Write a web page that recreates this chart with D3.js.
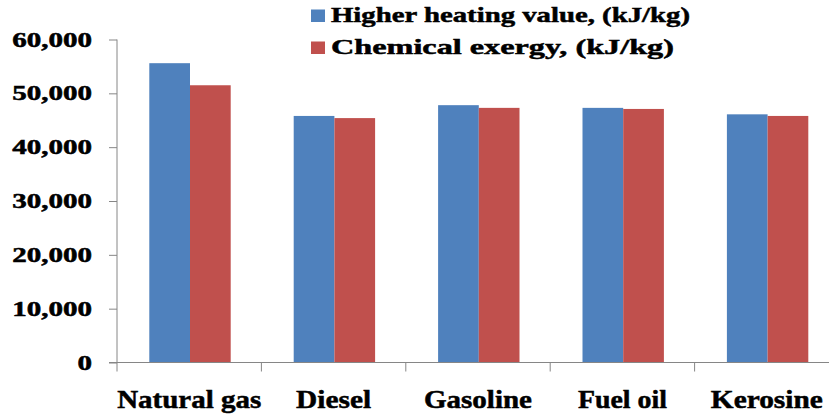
<!DOCTYPE html>
<html>
<head>
<meta charset="utf-8">
<script src="https://cdn.jsdelivr.net/npm/d3@7"></script>
<style>
  html, body { margin: 0; padding: 0; background: #fff; }
  svg { display: block; }
  text { font-family: "Liberation Serif", "Times New Roman", serif; font-weight: bold; fill: #000; stroke: #000; stroke-width: 0.5px; }
</style>
</head>
<body>
<svg id="chart" width="829" height="417"></svg>
<script>
const categories = ["Natural gas", "Diesel", "Gasoline", "Fuel oil", "Kerosine"];
const seriesNames = ["Higher heating value, (kJ/kg)", "Chemical exergy, (kJ/kg)"];
const higherHeatingValue = [55600, 45800, 47800, 47300, 46100];
const chemicalExergy = [51500, 45400, 47300, 47100, 45800];
const yTicks = [0, 10000, 20000, 30000, 40000, 50000, 60000];
const yTickLabels = ["0", "10,000", "20,000", "30,000", "40,000", "50,000", "60,000"];
const seriesColors = ["#4F81BD", "#C0504D"];

(function () {
const svg = d3.select("#chart");
const mLeft = 117, mRight = 839, mTop = 39.5, mBottom = 362.5;

const x0 = d3.scaleBand().domain(categories).range([mLeft, mRight]).padding(0);
const x1 = d3.scaleBand().domain([0, 1]).range([32.3, 113.7]).padding(0);
const y = d3.scaleLinear().domain([0, 60000]).range([mBottom, mTop]);

const series = [higherHeatingValue, chemicalExergy];
const axisColor = "#868686";

// bars
series.forEach((vals, si) => {
  svg.append("g").selectAll("rect")
    .data(categories.map((c, i) => ({ c, v: vals[i] })))
    .join("rect")
    .attr("x", d => x0(d.c) + x1(si))
    .attr("width", x1.bandwidth())
    .attr("y", d => y(d.v))
    .attr("height", d => y(0) - y(d.v))
    .attr("fill", seriesColors[si]);
});

// y axis
const yAxis = d3.axisLeft(y).tickValues(yTicks).tickSize(8).tickFormat("");
const gy = svg.append("g").attr("transform", `translate(${mLeft},0)`).call(yAxis);
gy.select(".domain").attr("stroke", axisColor).attr("d", `M0,${mTop}V${mBottom}`);
gy.selectAll(".tick line").attr("stroke", axisColor);

// y labels (stretched horizontally like the reference)
svg.append("g").selectAll("text")
  .data(yTicks)
  .join("text")
  .attr("transform", d => `translate(92,${y(d) + 7}) scale(1.45,1)`)
  .attr("text-anchor", "end")
  .attr("font-size", 20)
  .text((d, i) => yTickLabels[i]);

// x axis
const catEdges = categories.map(c => x0(c)).concat([mRight]);
svg.append("line")
  .attr("x1", mLeft - 8).attr("x2", 829)
  .attr("y1", y(0)).attr("y2", y(0))
  .attr("stroke", axisColor);
svg.append("g").selectAll("line")
  .data(catEdges)
  .join("line")
  .attr("x1", d => d).attr("x2", d => d)
  .attr("y1", y(0)).attr("y2", y(0) + 9)
  .attr("stroke", axisColor);

// x labels
const xLabelWidths = [144, 75, 108, 89, 112];
svg.append("g").selectAll("text")
  .data(categories)
  .join("text")
  .attr("x", d => x0(d) + x0.bandwidth() / 2)
  .attr("y", 408)
  .attr("text-anchor", "middle")
  .attr("font-size", 26)
  .attr("textLength", (d, i) => xLabelWidths[i])
  .attr("lengthAdjust", "spacingAndGlyphs")
  .text(d => d);

// legend
const legendWidths = [359, 343];
const legend = svg.append("g");
seriesNames.forEach((name, i) => {
  const ly = 22 + i * 32;
  legend.append("rect")
    .attr("x", 311).attr("y", ly - 12.5)
    .attr("width", 14).attr("height", 12.5)
    .attr("fill", seriesColors[i]);
  legend.append("text")
    .attr("x", 331).attr("y", ly)
    .attr("font-size", 22)
    .attr("textLength", legendWidths[i])
    .attr("lengthAdjust", "spacingAndGlyphs")
    .text(name);
});
})();
</script>
</body>
</html>
